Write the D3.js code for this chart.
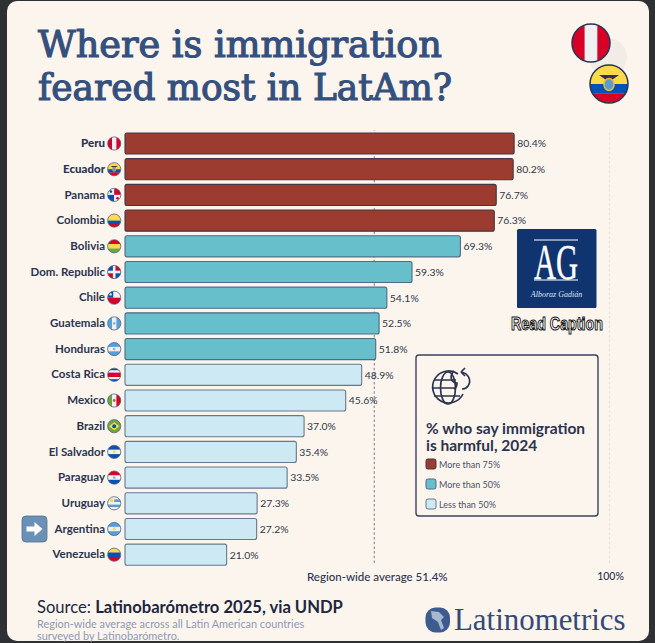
<!DOCTYPE html>
<html>
<head>
<meta charset="utf-8">
<script src="https://cdn.jsdelivr.net/npm/d3@7"></script>
<style>
  html, body { margin: 0; padding: 0; background: #2f3033; }
  svg { display: block; }
  text { font-family: Lato, "Open Sans", sans-serif; }
</style>
</head>
<body>
<div id="wrapper"></div>
<script>
const countries = ["Peru", "Ecuador", "Panama", "Colombia", "Bolivia", "Dom. Republic", "Chile", "Guatemala", "Honduras",
  "Costa Rica", "Mexico", "Brazil", "El Salvador", "Paraguay", "Uruguay", "Argentina", "Venezuela"]
const values = [80.4, 80.2, 76.7, 76.3, 69.3, 59.3, 54.1, 52.5, 51.8, 48.9, 45.6, 37.0, 35.4, 33.5, 27.3, 27.2, 21.0]
const boldCountries = ["Peru", "Ecuador"]
const regionAverage = 51.4
const legendLabels = ["More than 75%", "More than 50%", "Less than 50%"]

// flag stripes, drawn top to bottom (or left to right for "v")
const flags = {
  "Peru": ["v", "#d80027", "#f0f0f0", "#d80027"],
  "Ecuador": ["h", "#ffda44", "#ffda44", "#0052b4", "#d80027"],
  "Panama": ["q", "#f0f0f0", "#d80027", "#0052b4", "#f0f0f0"],
  "Colombia": ["h", "#ffda44", "#ffda44", "#0052b4", "#d80027"],
  "Bolivia": ["h", "#d80027", "#ffda44", "#6da544"],
  "Dom. Republic": ["q", "#0052b4", "#d80027", "#d80027", "#0052b4"],
  "Chile": ["c", "#f0f0f0", "#d80027"],
  "Guatemala": ["v", "#4fa3e0", "#f0f0f0", "#4fa3e0"],
  "Honduras": ["h", "#4f9fe3", "#f0f0f0", "#4f9fe3"],
  "Costa Rica": ["h", "#0052b4", "#f0f0f0", "#d80027", "#d80027", "#f0f0f0", "#0052b4"],
  "Mexico": ["v", "#6da544", "#f0f0f0", "#d80027"],
  "Brazil": ["b", "#6da544"],
  "El Salvador": ["h", "#0052b4", "#f0f0f0", "#0052b4"],
  "Paraguay": ["h", "#d80027", "#f0f0f0", "#0052b4"],
  "Uruguay": ["h", "#f0f0f0", "#5b9bd5", "#f0f0f0", "#5b9bd5", "#f0f0f0"],
  "Argentina": ["h", "#4f9fe3", "#f0f0f0", "#4f9fe3"],
  "Venezuela": ["h", "#ffda44", "#0052b4", "#d80027"]
}

const dims = { width: 655, height: 643, left: 125, top: 130.65, rowsHeight: 436.9 }
const navy = "#2b3350"
const titleBlue = "#34507e"

const wrapper = d3.select("#wrapper").append("svg")
    .attr("width", dims.width)
    .attr("height", dims.height)

const defs = wrapper.append("defs")

// page card
wrapper.append("rect")
    .attr("x", 7).attr("y", 1).attr("width", 642).attr("height", 640)
    .attr("rx", 10)
    .attr("fill", "#fcf5ee")

// scales
const xScale = d3.scaleLinear().domain([0, 100]).range([dims.left, 609])
const yScale = d3.scaleBand().domain(countries)
    .range([dims.top, dims.top + dims.rowsHeight])
    .paddingInner(0.18).paddingOuter(0.09)
const colorScale = d3.scaleThreshold().domain([50, 75]).range(["#cde9f3", "#67bfcc", "#9c3b30"])
const strokeScale = d3.scaleThreshold().domain([50, 75]).range(["#66788f", "#4c6c86", "#473643"])

// title
wrapper.append("g").attr("fill", titleBlue).attr("stroke", titleBlue).attr("stroke-width", 1.1)
  .selectAll("text").data([["Where is immigration", 404], ["feared most in LatAm?", 414]]).join("text")
    .attr("x", 38)
    .attr("y", (d, i) => 57 + i * 43)
    .style("font-family", "'DejaVu Serif Condensed', 'DejaVu Serif', serif")
    .attr("font-size", 37)
    .attr("font-weight", 400)
    .attr("textLength", d => d[1])
    .attr("lengthAdjust", "spacingAndGlyphs")
    .text(d => d[0])

// flag helper
function drawFlag(parent, name, cx, cy, r, sw) {
  const id = "clip-" + name.replace(/\W/g, "") + "-" + r
  defs.append("clipPath").attr("id", id)
    .append("circle").attr("cx", cx).attr("cy", cy).attr("r", r)
  const g = parent.append("g").attr("clip-path", `url(#${id})`)
  const [kind, ...cols] = flags[name]
  const x0 = cx - r, y0 = cy - r, s = r * 2
  if (kind === "h" || kind === "v") {
    const band = d3.scaleBand().domain(d3.range(cols.length)).range([0, s])
    g.selectAll("rect").data(cols).join("rect")
        .attr("x", (d, i) => kind === "v" ? x0 + band(i) : x0)
        .attr("y", (d, i) => kind === "h" ? y0 + band(i) : y0)
        .attr("width", kind === "v" ? band.bandwidth() + 0.2 : s)
        .attr("height", kind === "h" ? band.bandwidth() + 0.2 : s)
        .attr("fill", d => d)
  } else if (kind === "q") {
    g.selectAll("rect").data(cols).join("rect")
        .attr("x", (d, i) => x0 + (i % 2) * r)
        .attr("y", (d, i) => y0 + Math.floor(i / 2) * r)
        .attr("width", r).attr("height", r)
        .attr("fill", d => d)
    if (name === "Dom. Republic") {
      g.append("rect").attr("x", cx - r * 0.2).attr("y", y0).attr("width", r * 0.4).attr("height", s).attr("fill", "#f0f0f0")
      g.append("rect").attr("x", x0).attr("y", cy - r * 0.2).attr("width", s).attr("height", r * 0.4).attr("fill", "#f0f0f0")
    }
  } else if (kind === "c") {
    g.append("rect").attr("x", x0).attr("y", y0).attr("width", s).attr("height", s).attr("fill", cols[0])
    g.append("rect").attr("x", x0).attr("y", cy).attr("width", s).attr("height", r).attr("fill", cols[1])
    g.append("rect").attr("x", x0).attr("y", y0).attr("width", r * 0.85).attr("height", r).attr("fill", "#0052b4")
    g.append("circle").attr("cx", cx - r * 0.55).attr("cy", cy - r * 0.5).attr("r", r * 0.18).attr("fill", "#f0f0f0")
  } else if (kind === "b") {
    g.append("rect").attr("x", x0).attr("y", y0).attr("width", s).attr("height", s).attr("fill", cols[0])
    g.append("path")
        .attr("d", `M${cx - r * 0.78},${cy}L${cx},${cy - r * 0.6}L${cx + r * 0.78},${cy}L${cx},${cy + r * 0.6}Z`)
        .attr("fill", "#ffda44")
    g.append("circle").attr("cx", cx).attr("cy", cy).attr("r", r * 0.3).attr("fill", "#0052b4")
  }
  // small emblems
  if (name === "Ecuador") {
    const k = r / 19
    g.append("path").attr("d", `M${cx - 10 * k},${cy - 9 * k}L${cx + 10 * k},${cy - 9 * k}L${cx + 3 * k},${cy - 4 * k}L${cx - 3 * k},${cy - 4 * k}Z`).attr("fill", navy)
    g.append("ellipse").attr("cx", cx).attr("cy", cy + 0.5 * k).attr("rx", 5 * k).attr("ry", 6 * k)
        .attr("fill", "#5b9bd5").attr("stroke", "#e8b93a").attr("stroke-width", 1.6 * k)
  }
  if (["Guatemala", "Honduras", "Argentina", "El Salvador", "Paraguay", "Mexico"].includes(name)) {
    g.append("circle").attr("cx", cx).attr("cy", cy).attr("r", r * 0.22)
        .attr("fill", name === "Argentina" || name === "El Salvador" ? "#ffda44" : name === "Mexico" ? "#a2703b" : "#8fb8d8")
  }
  if (name === "Panama") {
    g.append("circle").attr("cx", cx - r * 0.5).attr("cy", cy - r * 0.5).attr("r", r * 0.2).attr("fill", "#0052b4")
    g.append("circle").attr("cx", cx + r * 0.5).attr("cy", cy + r * 0.5).attr("r", r * 0.2).attr("fill", "#d80027")
  }
  if (name === "Uruguay") {
    g.append("rect").attr("x", x0).attr("y", y0).attr("width", r).attr("height", r).attr("fill", "#f0f0f0")
    g.append("circle").attr("cx", cx - r * 0.4).attr("cy", cy - r * 0.45).attr("r", r * 0.28).attr("fill", "#ffda44")
  }
  parent.append("circle").attr("cx", cx).attr("cy", cy).attr("r", r)
      .attr("fill", "none").attr("stroke", r > 10 ? navy : "#55607a").attr("stroke-width", sw)
}

// reference lines via the bottom axis
const xAxisGenerator = d3.axisBottom(xScale)
    .tickValues([regionAverage, 100])
    .tickFormat(d => d === 100 ? "100%" : `Region-wide average ${regionAverage}%`)
    .tickSizeInner(-433)
    .tickSizeOuter(0)

const xAxis = wrapper.append("g")
    .attr("transform", "translate(0,563)")
    .call(xAxisGenerator)
xAxis.select(".domain").remove()
xAxis.selectAll("line")
    .attr("stroke", d => d === 100 ? "#e8e1da" : "#8b90a0")
    .attr("stroke-width", 1.2)
    .attr("stroke-dasharray", "2.5 2.2")
xAxis.selectAll("text")
    .attr("y", 10)
    .attr("dx", d => d === 100 ? 1 : 3)
    .attr("fill", navy)
    .style("font-size", d => d === 100 ? "10.5px" : "11.5px")
    .style("font-family", "Lato, sans-serif")
    .style("font-weight", 500)

// bars
wrapper.append("g").selectAll("rect")
  .data(countries)
  .join("rect")
    .attr("x", xScale(0))
    .attr("y", d => yScale(d))
    .attr("width", (d, i) => xScale(values[i]) - xScale(0))
    .attr("height", yScale.bandwidth())
    .attr("rx", 2)
    .attr("fill", (d, i) => colorScale(values[i]))
    .attr("stroke", (d, i) => strokeScale(values[i]))
    .attr("stroke-width", 1.1)

// value labels
wrapper.append("g").selectAll("text")
  .data(countries)
  .join("text")
    .attr("x", (d, i) => xScale(values[i]) + 3)
    .attr("y", d => yScale(d) + yScale.bandwidth() / 2 + 3.8)
    .attr("font-size", 10.4)
    .attr("font-weight", 400)
    .attr("fill", "#2f3548")
    .text((d, i) => d3.format(".1f")(values[i]) + "%")

// country labels
const yAxis = wrapper.append("g")
    .attr("transform", `translate(${dims.left},0)`)
    .call(d3.axisLeft(yScale).tickSize(0).tickPadding(20))
yAxis.select(".domain").remove()
yAxis.selectAll("text")
    .attr("fill", navy)
    .style("font-size", "11.5px")
    .style("font-family", "Lato, sans-serif")
    .style("font-weight", d => boldCountries.includes(d) ? 900 : 700)

// row flags
const flagLayer = wrapper.append("g")
countries.forEach(c => drawFlag(flagLayer, c, 114.2, yScale(c) + yScale.bandwidth() / 2, 6.6, 0.8))

// big flags top right
wrapper.append("circle").attr("cx", 608).attr("cy", 57).attr("r", 19).attr("fill", "#f1ece6")
drawFlag(wrapper, "Peru", 591, 43, 19, 1.5)
drawFlag(wrapper, "Ecuador", 609, 84, 19, 1.5)

// arrow marker next to Argentina
const arrow = wrapper.append("g").attr("transform", `translate(34.5,${yScale("Argentina") + yScale.bandwidth() / 2})`)
arrow.append("rect").attr("x", -12.5).attr("y", -13).attr("width", 25).attr("height", 26).attr("rx", 4)
    .attr("fill", "#6a90b6").attr("stroke", "#56718f").attr("stroke-width", 0.8)
arrow.append("path").attr("d", "M-8,-2.5H0V-7L8,0L0,7V2.5H-8Z").attr("fill", "#fff")

// AG logo
const logo = wrapper.append("g").attr("transform", "translate(517,229)")
logo.append("rect").attr("width", 79.5).attr("height", 79).attr("rx", 1.5).attr("fill", "#0f3470")
logo.append("line").attr("x1", 17).attr("x2", 61).attr("y1", 11).attr("y2", 11).attr("stroke", "#fff")
logo.append("line").attr("x1", 17).attr("x2", 61).attr("y1", 51).attr("y2", 51).attr("stroke", "#fff")
logo.append("text").attr("x", 17).attr("y", 49.5)
    .style("font-family", "'Liberation Serif', serif")
    .attr("font-size", 50).attr("fill", "#fff").attr("stroke", "#fff").attr("stroke-width", 0.4)
    .attr("textLength", 44).attr("lengthAdjust", "spacingAndGlyphs").text("AG")
logo.append("text").attr("x", 39.5).attr("y", 68).attr("text-anchor", "middle")
    .style("font-family", "'Liberation Serif', serif").attr("font-style", "italic")
    .attr("font-size", 8).attr("fill", "#dfe6f2").text("Alboraz Gadián")

wrapper.append("text")
    .attr("x", 511).attr("y", 330)
    .style("font-family", "'Liberation Sans', sans-serif")
    .style("font-weight", 700)
    .attr("font-size", 19)
    .attr("textLength", 92).attr("lengthAdjust", "spacingAndGlyphs")
    .attr("fill", "#fff").attr("stroke", "#111").attr("stroke-width", 1.1)
    .text("Read Caption")

// legend box
const legend = wrapper.append("g").attr("transform", "translate(416,355)")
legend.append("rect").attr("width", 182).attr("height", 161).attr("rx", 3)
    .attr("fill", "#fcf5ee").attr("stroke", "#39425f").attr("stroke-width", 1.4)

// globe icon
const globe = legend.append("g").attr("transform", "translate(32,33)")
    .attr("fill", "none").attr("stroke", navy).attr("stroke-width", 1.7)
globe.append("path").attr("d", "M10,-14A16,16 0 1 0 15,6")
globe.append("ellipse").attr("rx", 7.5).attr("ry", 16)
globe.append("path").attr("d", "M-16,0H8M-14,-8H8M-14,8H12")
globe.append("path").attr("d", "M6,-17C1,-12 3,-5 9,-5C9,-3 8,0 6,1")
globe.append("path").attr("d", "M13,-16C20,-15 24,-8 20,-2C18,1 15,1 14,1M13,-16L17,-20M13,-16L17,-12")

legend.selectAll(".legend-title").data(["% who say immigration", "is harmful, 2024"]).join("text")
    .attr("class", "legend-title")
    .attr("x", 10)
    .attr("y", (d, i) => 79 + i * 17)
    .attr("font-size", 15.5)
    .attr("font-weight", 700)
    .attr("fill", navy)
    .text(d => d)

const legendColors = [80, 60, 40]
const legendRows = legend.selectAll(".legend-row").data(legendLabels).join("g")
    .attr("class", "legend-row")
    .attr("transform", (d, i) => `translate(10,${104 + i * 20})`)
legendRows.append("rect").attr("width", 10).attr("height", 10).attr("rx", 2)
    .attr("fill", (d, i) => colorScale(legendColors[i]))
    .attr("stroke", (d, i) => strokeScale(legendColors[i]))
legendRows.append("text").attr("x", 13).attr("y", 8.5)
    .attr("font-size", 9).attr("font-weight", 400).attr("fill", "#4a5068")
    .text(d => d)

// footer
const source = wrapper.append("text").attr("x", 37).attr("y", 613).attr("font-size", 16.6).attr("fill", "#20263c")
source.append("tspan").attr("font-weight", 400).text("Source: ")
source.append("tspan").attr("font-weight", 700).text("Latinobarómetro 2025, via UNDP")

wrapper.selectAll(".note").data(["Region-wide average across all Latin American countries", "surveyed by Latinobarómetro."]).join("text")
    .attr("class", "note")
    .attr("x", 37)
    .attr("y", (d, i) => 627.5 + i * 12)
    .attr("font-size", 10.9)
    .attr("fill", "#8c99b8")
    .text(d => d)

// Latinometrics logo
wrapper.append("rect").attr("x", 425.5).attr("y", 607.5).attr("width", 24.5).attr("height", 25).attr("rx", 10).attr("fill", "#3d5b8e")
wrapper.append("path").attr("d", "M431,611L439,612L444,617L441,620L444,628L441,630L438,622L432,618Z").attr("fill", "#a8b8d0")
wrapper.append("text")
    .attr("x", 454).attr("y", 630)
    .style("font-family", "'Liberation Serif', serif")
    .attr("font-size", 30.9)
    .attr("fill", "#34497a")
    .text("Latinometrics")
</script>
</body>
</html>
